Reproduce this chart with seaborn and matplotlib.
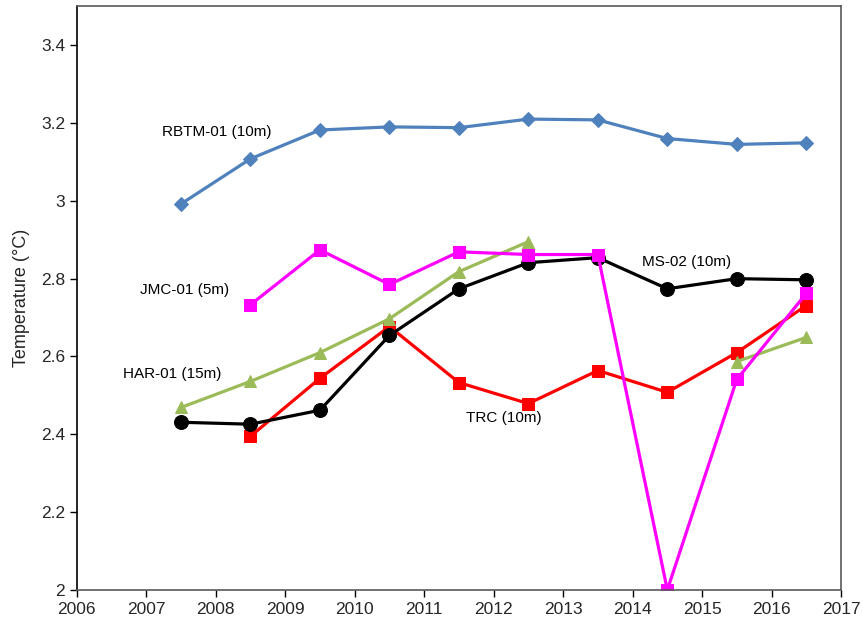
import pandas as pd
import numpy as np
import matplotlib
matplotlib.use("Agg")
import matplotlib.pyplot as plt
import seaborn as sns

sns.set_theme(style="white")
plt.rcParams["font.family"] = ["Liberation Sans", "DejaVu Sans"]

# yearly mean temperatures, plotted at mid-year
years = [2007.5, 2008.5, 2009.5, 2010.5, 2011.5, 2012.5, 2013.5, 2014.5, 2015.5, 2016.5]

rbtm = [2.992, 3.108, 3.182, 3.190, 3.188, 3.210, 3.208, 3.160, 3.145, 3.149]
jmc = [np.nan, 2.733, 2.874, 2.785, 2.869, 2.862, 2.862, 2.000, 2.541, 2.762]
ms02 = [2.431, 2.426, 2.462, 2.654, 2.774, 2.841, 2.854, 2.774, 2.800, 2.797]
trc = [np.nan, 2.395, 2.544, 2.677, 2.533, 2.479, 2.564, 2.508, 2.610, 2.731]
har = [2.469, 2.536, 2.610, 2.697, 2.818, 2.895, np.nan, np.nan, 2.587, 2.649]

# (label, values, colour, marker, marker size, label x, label y)
series = [
    ("TRC (10m)", trc, "#FF0000", "s", 8, 2011.6, 2.443),
    ("HAR-01 (15m)", har, "#9BBB59", "^", 9, 2006.67, 2.556),
    ("MS-02 (10m)", ms02, "#000000", "o", 10, 2014.13, 2.842),
    ("JMC-01 (5m)", jmc, "#FF00FF", "s", 9, 2006.91, 2.77),
    ("RBTM-01 (10m)", rbtm, "#4F81BD", "D", 7.5, 2007.23, 3.178),
]

fig = plt.figure(figsize=(8.63, 6.24), dpi=100)
ax = fig.add_axes([0.089, 0.0545, 0.8855, 0.9355])

for name, vals, col, mk, ms, lx, ly in series:
    d = pd.DataFrame({"year": years, "temp": vals})
    # gaps in a series break the line into separate pieces
    d["seg"] = d["temp"].isna().cumsum()
    d = d.dropna()
    sns.lineplot(data=d, x="year", y="temp", units="seg", estimator=None,
                 color=col, marker=mk, markersize=ms, markeredgecolor=col,
                 linewidth=2.3, ax=ax, legend=False)
    ax.text(lx, ly, name, fontsize=11, va="center", ha="left", color="#000000")

ax.set_xlim(2006, 2017)
ax.set_ylim(2, 3.5)
ax.set_xticks(range(2006, 2018))
ax.set_yticks([2, 2.2, 2.4, 2.6, 2.8, 3, 3.2, 3.4])
ax.set_yticklabels(["2", "2.2", "2.4", "2.6", "2.8", "3", "3.2", "3.4"])
ax.set_xlabel("")
ax.set_ylabel("Temperature (°C)", fontsize=13, labelpad=8)
ax.tick_params(axis="both", labelsize=12.5, direction="out", length=5, width=1,
               bottom=True, left=True, color="#000000")

for side in ["top", "right"]:
    ax.spines[side].set_color("#595959")
    ax.spines[side].set_linewidth(1.2)
ax.spines["left"].set_color("#000000")
ax.spines["bottom"].set_color("#595959")
for side in ["left", "bottom"]:
    ax.spines[side].set_linewidth(1.2)

fig.savefig("out.png", dpi=100)
